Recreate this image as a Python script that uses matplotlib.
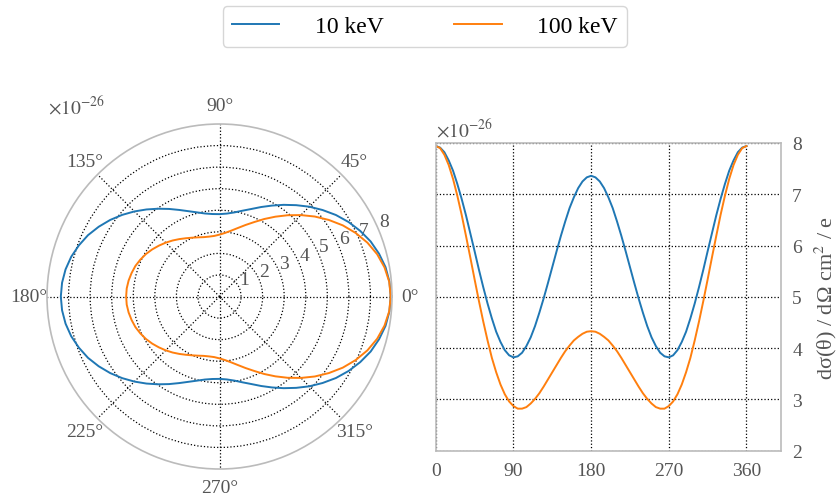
import numpy as np
import matplotlib
matplotlib.use("Agg")
import matplotlib.pyplot as plt

# scattering angle in degrees (5 degree steps), cross sections in units of 1e-26 cm^2 / e
angles = list(range(0, 365, 5))
sigma_10kev = [7.94, 7.91, 7.82, 7.66, 7.46, 7.20, 6.91, 6.59, 6.24, 5.89, 5.53, 5.19, 4.87, 4.58, 4.32, 4.12, 3.96, 3.86,
               3.82, 3.84, 3.91, 4.04, 4.21, 4.43, 4.69, 4.97, 5.27, 5.58, 5.89, 6.19, 6.47, 6.73, 6.94, 7.12, 7.25, 7.33,
               7.36,
               7.33, 7.25, 7.12, 6.94, 6.73, 6.47, 6.19, 5.89, 5.58, 5.27, 4.97, 4.69, 4.43, 4.21, 4.04, 3.91, 3.84,
               3.82, 3.86, 3.96, 4.12, 4.32, 4.58, 4.87, 5.19, 5.53, 5.89, 6.24, 6.59, 6.91, 7.20, 7.46, 7.66, 7.82, 7.91, 7.94]
sigma_100kev = [7.94, 7.90, 7.77, 7.57, 7.30, 6.97, 6.60, 6.19, 5.77, 5.34, 4.92, 4.52, 4.15, 3.81, 3.53, 3.29, 3.10, 2.96,
                2.87, 2.82, 2.82, 2.85, 2.92, 3.01, 3.12, 3.25, 3.39, 3.53, 3.67, 3.81, 3.94, 4.05, 4.15, 4.22, 4.28, 4.32,
                4.33,
                4.32, 4.28, 4.22, 4.15, 4.05, 3.94, 3.81, 3.67, 3.53, 3.39, 3.25, 3.12, 3.01, 2.92, 2.85, 2.82, 2.82,
                2.87, 2.96, 3.10, 3.29, 3.53, 3.81, 4.15, 4.52, 4.92, 5.34, 5.77, 6.19, 6.60, 6.97, 7.30, 7.57, 7.77, 7.90, 7.94]
labels = ["10 keV", "100 keV"]
xticks = [0, 90, 180, 270, 360]

plt.rcParams["font.family"] = ["Liberation Serif", "DejaVu Serif"]
plt.rcParams["mathtext.fontset"] = "stix"
TXT = "#555555"
SPINE = "#bbbbbb"

fig = plt.figure(figsize=(8.38, 5.02), dpi=100)

# polar plot
axp = fig.add_axes([0.0561, 0.0637, 0.4117, 0.6873], projection="polar")
theta = np.deg2rad(angles)
lp1, = axp.plot(theta, sigma_10kev, color="tab:blue", lw=1.4)
lp2, = axp.plot(theta, sigma_100kev, color="tab:orange", lw=1.4)
axp.set_ylim(0, 8)
axp.set_rticks([1, 2, 3, 4, 5, 6, 7, 8])
axp.set_rlabel_position(22.5)
axp.set_thetagrids(range(0, 360, 45))
axp.grid(True, color="black", linestyle=":", linewidth=0.9)
axp.yaxis.get_major_ticks()[-1].gridline.set_visible(False)
axp.spines["polar"].set_color(SPINE)
axp.spines["polar"].set_linewidth(1.2)
axp.tick_params(axis="both", colors=TXT, labelsize=14, length=0)
axp.tick_params(axis="x", pad=6)
fig.text(0.057, 0.765, r"$\times10^{-26}$", color=TXT, fontsize=14, va="bottom")

# cartesian plot
ax = fig.add_axes([0.520, 0.1002, 0.412, 0.613])
ax.plot(angles, sigma_10kev, color="tab:blue", lw=1.4)
ax.plot(angles, sigma_100kev, color="tab:orange", lw=1.4)
ax.set_xlim(0, 400)
ax.set_ylim(2, 8)
ax.set_xticks(xticks)
ax.yaxis.tick_right()
ax.yaxis.set_label_position("right")
ax.grid(True, color="black", linestyle=":", linewidth=0.9)
for s in ax.spines.values():
    s.set_color(SPINE)
    s.set_linewidth(1.2)
ax.tick_params(axis="both", colors=TXT, labelsize=14, length=0, pad=8)
ax.set_ylabel("dσ(θ) / dΩ cm$^2$ / e", color=TXT, fontsize=16, labelpad=8)
ax.text(0.0, 1.01, r"$\times10^{-26}$", transform=ax.transAxes, color=TXT, fontsize=14, va="bottom")

leg = fig.legend([lp1, lp2], labels, loc="center", bbox_to_anchor=(0.507, 0.945), ncol=2,
                 fontsize=17, handlelength=2.0, handletextpad=1.5, columnspacing=3.0,
                 frameon=True, fancybox=True)
leg.get_frame().set_edgecolor("#cccccc")

fig.savefig("out.png", dpi=100)
